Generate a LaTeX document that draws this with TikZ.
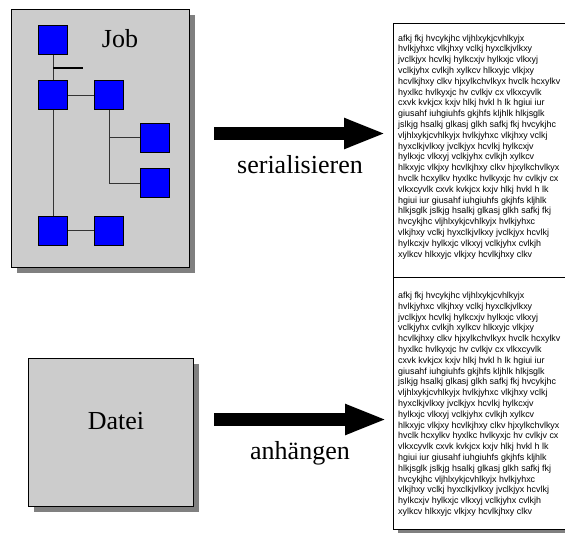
\documentclass[tikz,border=0pt]{standalone}
\usepackage{fontspec}
\setmainfont{Liberation Serif}
\newfontfamily\pagefont{Liberation Sans}
\usetikzlibrary{arrows.meta}

\definecolor{panelgray}{HTML}{CCCCCC}
\definecolor{shadowgray}{HTML}{808080}
\definecolor{linkgray}{HTML}{333333}
\definecolor{blockblue}{HTML}{0000FF}

\tikzset{
  panel/.style={draw=black, fill=panelgray, line width=0.8pt},
  panelshadow/.style={fill=shadowgray},
  sheet/.style={draw=black, fill=white, line width=0.8pt},
  blk/.style={draw=black, fill=blockblue, minimum size=29pt, inner sep=0pt, line width=0.7pt},
  link/.style={draw=linkgray, line width=1pt},
  bigarrow/.style={line width=13pt, -{Triangle[length=42pt,width=28pt]}},
  caption/.style={font=\fontsize{26}{30}\selectfont, inner sep=0pt},
  txt/.style={font=\pagefont\fontsize{8.9}{10.8}\selectfont, inner sep=0pt, anchor=base west},
}

\newcommand{\pagelines}{%
  afkj fkj hvcykjhc vljhlxykjcvhlkyjx,
  hvlkjyhxc vlkjhxy vclkj hyxclkjvlkxy,
  jvclkjyx hcvlkj hylkcxjv hylkxjc vlkxyj,
  vclkjyhx cvlkjh xylkcv hlkxyjc vlkjxy,
  hcvlkjhxy clkv hjxylkchvlkyx hvclk hcxylkv,
  hyxlkc hvlkyxjc hv cvlkjv cx vlkxcyvlk,
  cxvk kvkjcx kxjv hlkj hvkl h lk hgiui iur,
  giusahf iuhgiuhfs gkjhfs kljhlk hlkjsglk,
  jslkjg hsalkj glkasj glkh safkj fkj hvcykjhc,
  vljhlxykjcvhlkyjx hvlkjyhxc vlkjhxy vclkj,
  hyxclkjvlkxy jvclkjyx hcvlkj hylkcxjv,
  hylkxjc vlkxyj vclkjyhx cvlkjh xylkcv,
  hlkxyjc vlkjxy hcvlkjhxy clkv hjxylkchvlkyx,
  hvclk hcxylkv hyxlkc hvlkyxjc hv cvlkjv cx,
  vlkxcyvlk cxvk kvkjcx kxjv hlkj hvkl h lk,
  hgiui iur giusahf iuhgiuhfs gkjhfs kljhlk,
  hlkjsglk jslkjg hsalkj glkasj glkh safkj fkj,
  hvcykjhc vljhlxykjcvhlkyjx hvlkjyhxc,
  vlkjhxy vclkj hyxclkjvlkxy jvclkjyx hcvlkj,
  hylkcxjv hylkxjc vlkxyj vclkjyhx cvlkjh,
  xylkcv hlkxyjc vlkjxy hcvlkjhxy clkv}

\begin{document}
\begin{tikzpicture}[x=1pt, y=-1pt]
  \useasboundingbox (0,0) rectangle (565,538);
  \clip (0,0) rectangle (565,538);

  % Job panel with drop shadow
  \fill[panelshadow] (17,15) rectangle (195,273);
  \draw[panel] (11,9) rectangle (189,267);
  \node[caption, anchor=base] (joblbl) at (120,47) {Job};

  % tree of blocks
  \node[blk] (b1) at (53,40) {};
  \node[blk] (b2) at (53,95) {};
  \node[blk] (b3) at (109,95) {};
  \node[blk] (b4) at (155,137.5) {};
  \node[blk] (b5) at (155,183) {};
  \node[blk] (b6) at (53,230.5) {};
  \node[blk] (b7) at (109,230.5) {};

  \coordinate (fork) at (53,68);
  \coordinate (stub) at (83,68);
  \draw[link] (b1.south) -- (b2.north);
  \draw[black, line width=1.3pt] (fork) -- (stub);
  \draw[link] (b2.east) -- (b3.west);
  \draw[link] (b2.south) -- (b6.north);
  \draw[link] (b6.east) -- (b7.west);
  \draw[link] (b3.south) |- (b5.west);
  \draw[link] (b3.south |- b4.west) -- (b4.west);

  % Datei panel with drop shadow
  \fill[panelshadow] (34,364) rectangle (199,512);
  \draw[panel] (28,358) rectangle (193,506);
  \node[caption, anchor=base] (datei) at (116,429) {Datei};

  % text sheets on the right
  \draw[sheet] (393,23) rectangle (610,277);
  \foreach \ln [count=\i] in \pagelines
    \node[txt] (ta\i) at (398,{41+(\i-1)*10.8}) {\ln};

  \fill[panelshadow] (398,281) rectangle (615,533);
  \draw[sheet] (393,277) rectangle (610,529);
  \foreach \ln [count=\i] in \pagelines
    \node[txt] (tb\i) at (398,{298.5+(\i-1)*10.8}) {\ln};

  % block arrows with captions
  \coordinate (s1) at (214,133.5);
  \coordinate (e1) at (386,133.5);
  \draw[bigarrow] (s1) -- (e1);
  \node[caption, anchor=base] (ser) at (300,173) {serialisieren};

  \coordinate (s2) at (214,419.5);
  \coordinate (e2) at (387,419.5);
  \draw[bigarrow] (s2) -- (e2);
  \node[caption, anchor=base] (anh) at (300,459) {anhängen};
\end{tikzpicture}
\end{document}
